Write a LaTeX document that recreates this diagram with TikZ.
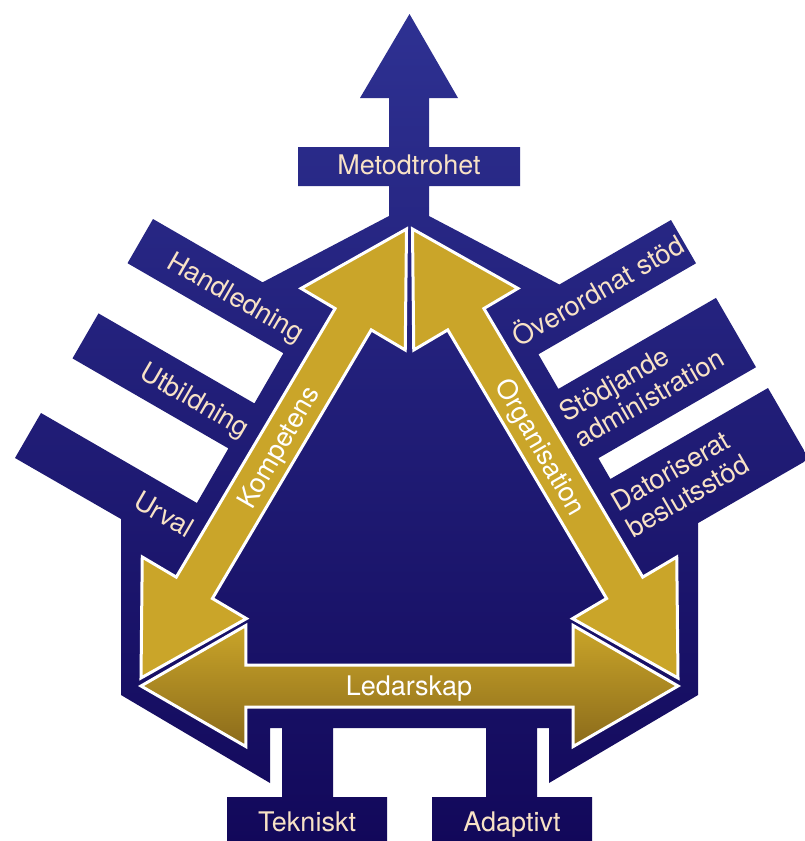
\documentclass[tikz,border=0pt]{standalone}
\usepackage{fontspec}
\setmainfont{TeX Gyre Heros}
\usetikzlibrary{calc}
\definecolor{navyTop}{HTML}{2E3192}
\definecolor{navyBot}{HTML}{12085A}
\definecolor{goldA}{HTML}{CAA529}
\definecolor{goldDark}{HTML}{8B6B1B}
\definecolor{labelBeige}{HTML}{F8E2C6}
\newcommand{\arrS}{121pt}
\newcommand{\arrH}{104.8pt}
\newcommand{\arrW}{21pt}
% double-headed arrow with equilateral heads: #1 style, #2 first tip, #3 second tip
\newcommand{\dblarrow}[3]{%
  \path[#1] (#2) -- ($(#2)!\arrS!30:(#3)$) -- ($(#2)!\arrH!(#3)!\arrW!90:(#3)$)
    -- ($(#3)!\arrH!(#2)!\arrW!-90:(#2)$) -- ($(#3)!\arrS!-30:(#2)$) -- (#3)
    -- ($(#3)!\arrS!30:(#2)$) -- ($(#3)!\arrH!(#2)!\arrW!90:(#2)$)
    -- ($(#2)!\arrH!(#3)!\arrW!-90:(#3)$) -- ($(#2)!\arrS!-30:(#3)$) -- cycle;}
\begin{document}
\begin{tikzpicture}[x=1pt,y=-1pt,
  lbl/.style={text=labelBeige, font=\fontsize{27}{30}\selectfont, inner sep=0pt},
  capc/.style={text height=19.3pt, text depth=0pt},
  goldarrow/.style={fill=goldA, draw=white, line width=3pt},
  leadarrow/.style={top color=goldA, middle color=goldA!96!black, bottom color=goldDark, draw=white, line width=3pt}]
\fill[white] (0,0) rectangle (805,841);
\useasboundingbox (0,0) rectangle (805,841);
% navy silhouette
\shade[top color=navyTop, bottom color=navyBot]
  (409.5,14) -- (458,98) -- (429,98) -- (429,147) -- (520,147) -- (520,186) -- (429,186)
  -- (429,216) -- (559.4,284.5) -- (671,220) -- (696,263.3) -- (538.4,354.3) -- (558.4,388.9)
  -- (716,297.9) -- (756,367.2) -- (598.4,458.2) -- (610.4,479) -- (768,388) -- (809,459)
  -- (698,523.1) -- (698,695) -- (549,783) -- (549,728) -- (537,728) -- (537,797) -- (592,797)
  -- (592,845) -- (432,845) -- (432,797) -- (486,797) -- (486,728) -- (333,728) -- (333,797)
  -- (387,797) -- (387,845) -- (227,845) -- (227,797) -- (282,797) -- (282,728) -- (270,728)
  -- (270,783) -- (121,695) -- (121,519) -- (15,458) -- (41,413) -- (196.9,503) -- (228.4,448.4)
  -- (72.5,358.4) -- (98.5,313.4) -- (254.4,403.4) -- (283.4,353.2) -- (127.5,263.2) -- (153,219)
  -- (262.6,282.3) -- (389,216) -- (389,186) -- (298,186) -- (298,147) -- (389,147) -- (389,98)
  -- (360,98) -- cycle;
% gold arrows
\coordinate (kA) at (406.5,229); \coordinate (kB) at (141,678);
\coordinate (oA) at (412.5,229); \coordinate (oB) at (678,678);
\coordinate (lA) at (141,686);   \coordinate (lB) at (678,686);
\dblarrow{goldarrow}{kA}{kB}
\dblarrow{goldarrow}{oA}{oB}
\dblarrow{leadarrow}{lA}{lB}
% labels
\node[lbl, capc] (mt) at (409,165) {Metodtrohet};
\node[lbl, capc, text=white] (led) at (409,686) {Ledarskap};
\node[lbl, capc] (tek) at (307,821.5) {Tekniskt};
\node[lbl, capc] (ada) at (512,821.5) {Adaptivt};
\node[lbl, capc, text=white, rotate=60] (komp) at (277.6,447) {Kompetens};
\node[lbl, capc, text=white, rotate=-60] (org) at (541.4,447) {Organisation};
\node[lbl, capc, rotate=-30, anchor=east] (handl) at (302.2,334.6) {Handledning};
\node[lbl, capc, rotate=-30, anchor=east] (utb) at (247.4,429.4) {Utbildning};
\node[lbl, capc, rotate=-30, anchor=east] (urv) at (191.7,530) {Urval};
\node[lbl, capc, rotate=30, anchor=west] (over) at (514.6,339.2) {Överordnat stöd};
\node[lbl, rotate=30, anchor=west, align=left] (stod) at (568.7,426.8) {Stödjande\\administration};
\node[lbl, rotate=30, anchor=west, align=left] (dat) at (620.7,516.9) {Datoriserat\\beslutsstöd};
\end{tikzpicture}
\end{document}
